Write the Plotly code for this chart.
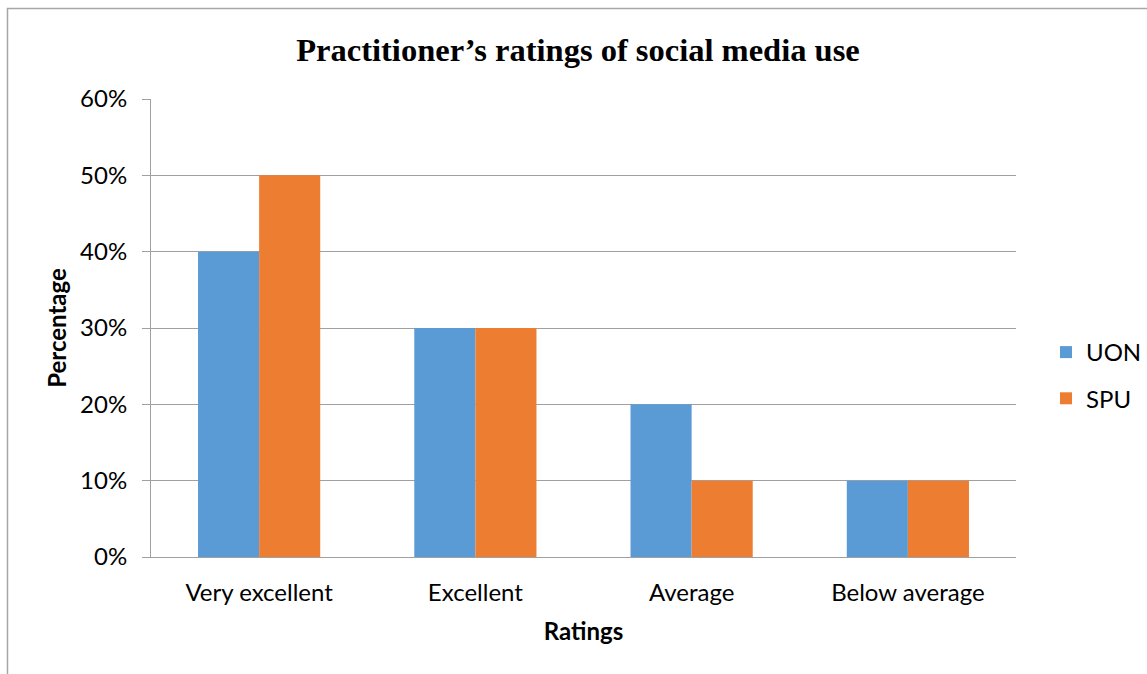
import plotly.graph_objects as go

categories = ["Very excellent", "Excellent", "Average", "Below average"]
uon = [0.40, 0.30, 0.20, 0.10]
spu = [0.50, 0.30, 0.10, 0.10]
y_ticks = [0, 0.1, 0.2, 0.3, 0.4, 0.5, 0.6]
y_tick_labels = ["0%", "10%", "20%", "30%", "40%", "50%", "60%"]

W, H = 1147, 674
L, R, T, B = 151, 131, 99, 117
pw, ph = W - L - R, H - T - B

def px_x(px):
    return (px - L) / pw

def px_y(py):
    return (H - B - py) / ph

font_main = "Lato, 'Open Sans', sans-serif"
FS = 24

fig = go.Figure()
fig.add_trace(go.Bar(name="UON", x=categories, y=uon, marker=dict(color="#5B9BD5", line=dict(width=0)),
                     legendgroup="a"))
fig.add_trace(go.Bar(name="SPU", x=categories, y=spu, marker=dict(color="#ED7D31", line=dict(width=0)),
                     legendgroup="b"))

fig.update_layout(
    width=W, height=H,
    margin=dict(l=L, r=R, t=T, b=B, autoexpand=False),
    paper_bgcolor="white", plot_bgcolor="white",
    barmode="group", bargap=0.435, bargroupgap=0.0,
    title=dict(text="<b>Practitioner’s ratings of social media use</b>",
               font=dict(family="'Liberation Serif', 'Times New Roman', serif", size=32.5, color="black"),
               x=px_x(578), xanchor="center", xref="paper", y=1 - 50 / H, yanchor="middle"),
    font=dict(family=font_main, size=FS, color="black"),
    legend=dict(x=px_x(1046), xanchor="left", y=px_y(330), yanchor="top",
                traceorder="grouped", tracegroupgap=12,
                font=dict(family=font_main, size=FS, color="black"),
                itemsizing="constant", bgcolor="rgba(0,0,0,0)"),
    xaxis=dict(showgrid=False, showline=True, linecolor="#A0A0A0", linewidth=1,
               ticks="", tickfont=dict(size=FS, color="black"), ticklabelstandoff=14,
               title=dict(text="<b>Ratings</b>", font=dict(size=FS, color="black"), standoff=18)),
    yaxis=dict(range=[0, 0.6], tickvals=y_ticks, ticktext=y_tick_labels,
               showgrid=True, gridcolor="#A0A0A0", gridwidth=1,
               showline=True, linecolor="#A0A0A0", linewidth=1,
               ticks="outside", ticklen=8, tickcolor="#A0A0A0",
               tickfont=dict(size=FS, color="black"), zeroline=False, ticklabelstandoff=10,
               title=dict(text="<b>Percentage</b>", font=dict(size=FS, color="black"), standoff=6)),
)

fig.add_shape(type="rect", xref="paper", yref="paper",
              x0=px_x(7.5), x1=px_x(1170), y0=px_y(700), y1=px_y(8.5),
              line=dict(color="#A6A6A6", width=1.5), fillcolor="rgba(0,0,0,0)", layer="below")

fig.write_html("out.html", config={"displayModeBar": False},
               post_script="document.body.style.margin='0';document.body.style.overflow='hidden';")
